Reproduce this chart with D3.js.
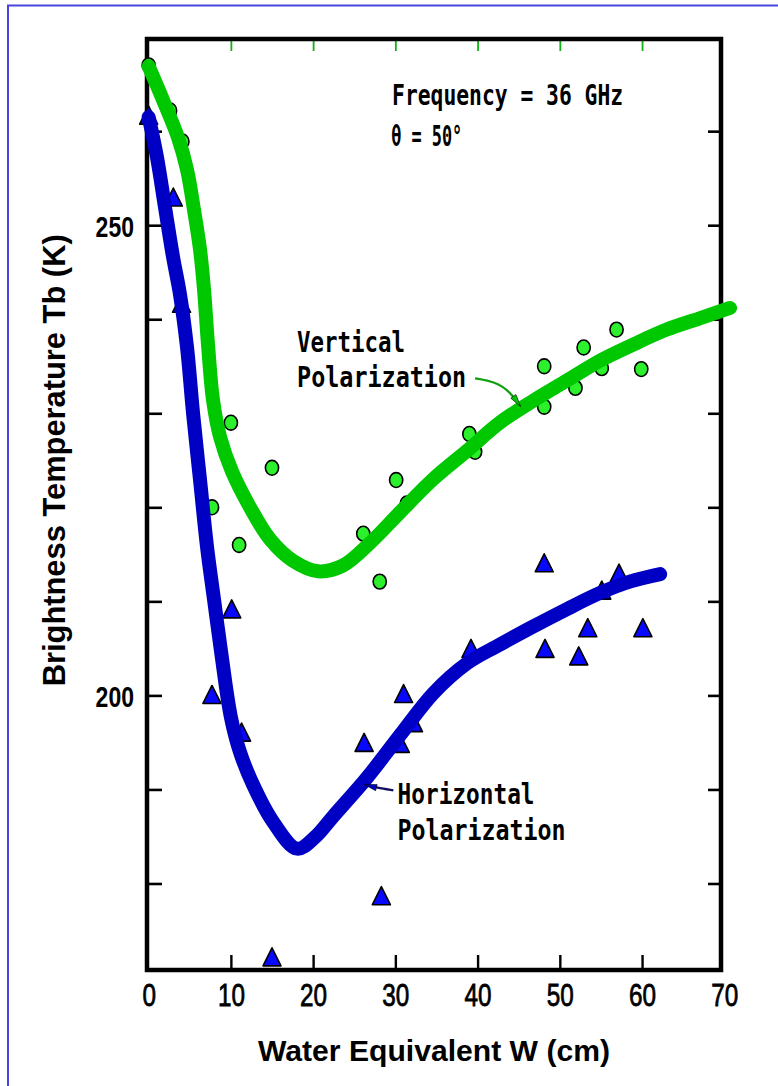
<!DOCTYPE html>
<html>
<head>
<meta charset="utf-8">
<script src="https://cdn.jsdelivr.net/npm/d3@7"></script>
<style>
  html, body { margin: 0; padding: 0; background: #ffffff; }
  svg { display: block; }
</style>
</head>
<body>
<svg id="chart" width="778" height="1086"></svg>
<script>
// Measured brightness temperatures, 36 GHz, incidence angle 50 deg
// Vertical polarization (circles)
const vertW  = [0, 2.6, 4.1, 7.7, 10.0, 11.0, 15.0, 26.1, 28.1, 30.1, 31.4, 39.0, 39.7, 48.1, 48.1, 51.9, 52.9, 55.1, 56.9, 59.9];
const vertTb = [267.0, 262.2, 258.9, 220.0, 229.0, 216.0, 224.2, 217.2, 212.1, 222.9, 220.4, 227.8, 225.9, 235.0, 230.7, 232.7, 237.0, 234.8, 238.9, 234.7];
// Horizontal polarization (triangles)
const horizW  = [0, 3.0, 4.0, 7.7, 10.1, 11.3, 15.0, 26.2, 28.3, 30.6, 31.0, 32.2, 39.2, 48.2, 48.1, 52.3, 53.4, 55.1, 57.2, 60.1];
const horizTb = [261.7, 253.0, 241.7, 200.1, 209.2, 196.1, 172.2, 195.0, 178.7, 194.9, 200.2, 197.1, 205.0, 205.0, 214.1, 204.2, 207.2, 211.2, 213.0, 207.2];

// Hand-fitted trend curves
const vertFitW  = [0, 1.75, 3.58, 4.67, 5.52, 6.25, 6.74, 7.22, 7.83, 8.68, 10.14, 12.33, 14.76, 17.56, 20.6, 23.6, 26.9, 30.6, 34.6, 38.7, 42.7, 46.7, 50.9, 54.9, 58.9, 63.0, 67.0, 70.7];
const vertFitTb = [266.9, 263.3, 259.3, 255.9, 251.6, 247.4, 243.1, 237.3, 231.4, 227.5, 223.8, 220.0, 216.6, 214.3, 213.2, 213.8, 216.2, 219.5, 223.0, 226.0, 229.0, 231.3, 233.5, 235.6, 237.3, 238.9, 240.1, 241.2];
const horizFitW  = [0, 1.02, 1.99, 2.97, 3.82, 4.67, 5.40, 6.25, 7.10, 7.95, 8.80, 10.0, 11.1, 12.7, 15.1, 18.05, 20.2, 22.5, 26.6, 30.6, 34.6, 38.7, 42.7, 46.7, 50.9, 54.9, 58.5, 62.2];
const horizFitTb = [261.5, 257.2, 251.9, 246.6, 242.6, 237.0, 230.0, 222.9, 215.8, 210.2, 204.7, 197.7, 194.0, 190.5, 186.6, 183.7, 184.9, 187.2, 191.3, 195.8, 200.2, 203.4, 205.4, 207.3, 209.2, 210.9, 212.1, 212.9];

// Axis ticks and labels
const xLabelTicks = [0, 10, 20, 30, 40, 50, 60, 70];
const xInnerTicks = [10, 20, 30, 40, 50, 60];
const yTicks = [180, 190, 200, 210, 220, 230, 240, 250, 260];
const yLabelTicks = [200, 250];

const xTitle = "Water Equivalent W (cm)";
const yTitle = "Brightness Temperature Tb (K)";

const svg = d3.select("#chart");
const width = +svg.attr("width");
const height = +svg.attr("height");

const x = d3.scaleLinear().domain([-0.2, 69.6]).range([147, 721]);
const y = d3.scaleLinear().domain([170.8, 269.8]).range([970, 39]);

const [x0, x1] = x.range();
const [yb, yt] = y.range();

const GREEN_LINE = "#00c800";
const GREEN_DOT = "#2cf02c";
const BLUE_LINE = "#0000c4";
const BLUE_DOT = "#0808ff";

// Thin page border
svg.append("path")
  .attr("d", `M8,${height} V5.5 H${width}`)
  .attr("fill", "none")
  .attr("stroke", "#4646e0")
  .attr("stroke-width", 2);

// Arrowheads for the annotation leaders
const defs = svg.append("defs");
function arrowMarker(id, color) {
  defs.append("marker")
    .attr("id", id)
    .attr("viewBox", "0 -5 14 10")
    .attr("refX", 13)
    .attr("refY", 0)
    .attr("markerUnits", "userSpaceOnUse")
    .attr("markerWidth", 15)
    .attr("markerHeight", 9)
    .attr("orient", "auto")
    .append("path")
    .attr("d", "M0,-3.5 L14,0 L0,3.5 Z")
    .attr("fill", color)
    .attr("stroke", "#000")
    .attr("stroke-width", 0.6);
}
arrowMarker("arrow-green", GREEN_LINE);
arrowMarker("arrow-blue", BLUE_LINE);

// Tick helpers
function styleTicks(g, color, w) {
  g.select(".domain").remove();
  g.selectAll(".tick line").attr("stroke", color).attr("stroke-width", w);
}

// Left ticks (inward)
svg.append("g")
  .attr("transform", `translate(${x0},0)`)
  .call(d3.axisRight(y).tickValues(yTicks).tickSize(15).tickFormat(""))
  .call(g => styleTicks(g, "#000", 2.6));

// Right ticks (inward)
svg.append("g")
  .attr("transform", `translate(${x1},0)`)
  .call(d3.axisLeft(y).tickValues(yTicks).tickSize(13).tickFormat(""))
  .call(g => styleTicks(g, "#000", 2.6));

// Bottom ticks (inward)
svg.append("g")
  .attr("transform", `translate(0,${yb})`)
  .call(d3.axisTop(x).tickValues(xInnerTicks).tickSize(15).tickFormat(""))
  .call(g => styleTicks(g, "#000", 2.4));

// Top ticks (inward, green)
svg.append("g")
  .attr("transform", `translate(0,${yt})`)
  .call(d3.axisBottom(x).tickValues(xInnerTicks).tickSize(12).tickFormat(""))
  .call(g => styleTicks(g, "#12b012", 1.8));

// Y tick labels
const yl = svg.append("g")
  .attr("transform", `translate(${x0},0)`)
  .call(d3.axisLeft(y).tickValues(yLabelTicks).tickSize(0).tickPadding(13));
yl.select(".domain").remove();
yl.selectAll("text")
  .attr("font-family", "'Liberation Sans', Arial, sans-serif")
  .attr("font-weight", "bold")
  .attr("font-size", 30)
  .attr("fill", "#000")
  .attr("dy", "0.36em")
  .attr("textLength", d => String(d).length * 12.8)
  .attr("lengthAdjust", "spacingAndGlyphs");

// X tick labels
const xl = svg.append("g")
  .attr("transform", `translate(0,${yb})`)
  .call(d3.axisBottom(x).tickValues(xLabelTicks).tickSize(0).tickPadding(13));
xl.select(".domain").remove();
xl.selectAll("text")
  .attr("font-family", "'Liberation Sans', Arial, sans-serif")
  .attr("font-size", 32)
  .attr("fill", "#000")
  .attr("stroke", "#000")
  .attr("stroke-width", 0.8)
  .attr("textLength", d => String(d).length * 13.5)
  .attr("lengthAdjust", "spacingAndGlyphs");

// Frame
svg.append("rect")
  .attr("x", x0).attr("y", yt)
  .attr("width", x1 - x0).attr("height", yb - yt)
  .attr("fill", "none")
  .attr("stroke", "#000")
  .attr("stroke-width", 4.5);

// Axis titles
svg.append("text")
  .attr("x", (x0 + x1) / 2)
  .attr("y", 1061)
  .attr("text-anchor", "middle")
  .attr("font-family", "'Liberation Sans', Arial, sans-serif")
  .attr("font-weight", "bold")
  .attr("font-size", 30)
  .attr("fill", "#000")
  .attr("textLength", 352)
  .attr("lengthAdjust", "spacingAndGlyphs")
  .text(xTitle);

svg.append("text")
  .attr("transform", `translate(65,${(y(250) + y(200)) / 2}) rotate(-90)`)
  .attr("text-anchor", "middle")
  .attr("font-family", "'Liberation Sans', Arial, sans-serif")
  .attr("font-weight", "bold")
  .attr("font-size", 31)
  .attr("fill", "#000")
  .attr("textLength", 452)
  .attr("lengthAdjust", "spacingAndGlyphs")
  .text(yTitle);

// Data markers
const vertPts = vertW.map((w, i) => ({ w, t: vertTb[i] }));
const horizPts = horizW.map((w, i) => ({ w, t: horizTb[i] }));

svg.append("g").selectAll("ellipse")
  .data(vertPts)
  .join("ellipse")
  .attr("cx", d => x(d.w))
  .attr("cy", d => y(d.t))
  .attr("rx", 6.6)
  .attr("ry", 7.4)
  .attr("fill", GREEN_DOT)
  .attr("stroke", "#000")
  .attr("stroke-width", 1.6);

const triangle = {
  draw(ctx, size) {
    const s = Math.sqrt(size);
    ctx.moveTo(0, -s / 2);
    ctx.lineTo(s / 2, s / 2);
    ctx.lineTo(-s / 2, s / 2);
    ctx.closePath();
  }
};
svg.append("g").selectAll("path")
  .data(horizPts)
  .join("path")
  .attr("transform", d => `translate(${x(d.w)},${y(d.t)})`)
  .attr("d", d3.symbol().type(triangle).size(18 * 18))
  .attr("fill", BLUE_DOT)
  .attr("stroke", "#000")
  .attr("stroke-width", 1.6)
  .attr("stroke-linejoin", "round");

// Fitted curves
const line = d3.line()
  .x(d => x(d.w))
  .y(d => y(d.t))
  .curve(d3.curveCatmullRom.alpha(0.5));

svg.append("path")
  .datum(vertFitW.map((w, i) => ({ w, t: vertFitTb[i] })))
  .attr("d", line)
  .attr("fill", "none")
  .attr("stroke", GREEN_LINE)
  .attr("stroke-width", 14)
  .attr("stroke-linecap", "round")
  .attr("stroke-linejoin", "round");

svg.append("path")
  .datum(horizFitW.map((w, i) => ({ w, t: horizFitTb[i] })))
  .attr("d", line)
  .attr("fill", "none")
  .attr("stroke", BLUE_LINE)
  .attr("stroke-width", 14)
  .attr("stroke-linecap", "round")
  .attr("stroke-linejoin", "round");

// Annotations
const annoFont = "'DejaVu Sans Mono', 'Liberation Mono', monospace";
const notes = [
  { text: "Frequency = 36 GHz", w: 29.6, t: 262.8, len: 231 },
  { text: "\u03B8 = 50\u00B0",  w: 29.5, t: 258.4, len: 71 },
  { text: "Vertical",            w: 18.05, t: 236.55, len: 108 },
  { text: "Polarization",        w: 18.05, t: 232.8, len: 169 },
  { text: "Horizontal",          w: 30.27, t: 188.4, len: 137 },
  { text: "Polarization",        w: 30.27, t: 184.65, len: 168 }
];
svg.append("g").selectAll("text")
  .data(notes)
  .join("text")
  .attr("x", d => x(d.w))
  .attr("y", d => y(d.t))
  .attr("font-family", annoFont)
  .attr("font-weight", "bold")
  .attr("font-size", 29)
  .attr("fill", "#000")
  .attr("textLength", d => d.len)
  .attr("lengthAdjust", "spacingAndGlyphs")
  .text(d => d.text);

// Leader arrows
const leader = d3.line().x(d => x(d[0])).y(d => y(d[1])).curve(d3.curveBasis);
svg.append("path")
  .attr("d", leader([[39.69, 233.72], [42.13, 233.36], [43.95, 232.30], [45.17, 230.78]]))
  .attr("fill", "none")
  .attr("stroke", "#10a010")
  .attr("stroke-width", 2.2)
  .attr("marker-end", "url(#arrow-green)");

svg.append("path")
  .attr("d", leader([[29.76, 189.9], [27.74, 190.18], [26.32, 190.5]]))
  .attr("fill", "none")
  .attr("stroke", "#101060")
  .attr("stroke-width", 2.2)
  .attr("marker-end", "url(#arrow-blue)");
</script>
</body>
</html>
